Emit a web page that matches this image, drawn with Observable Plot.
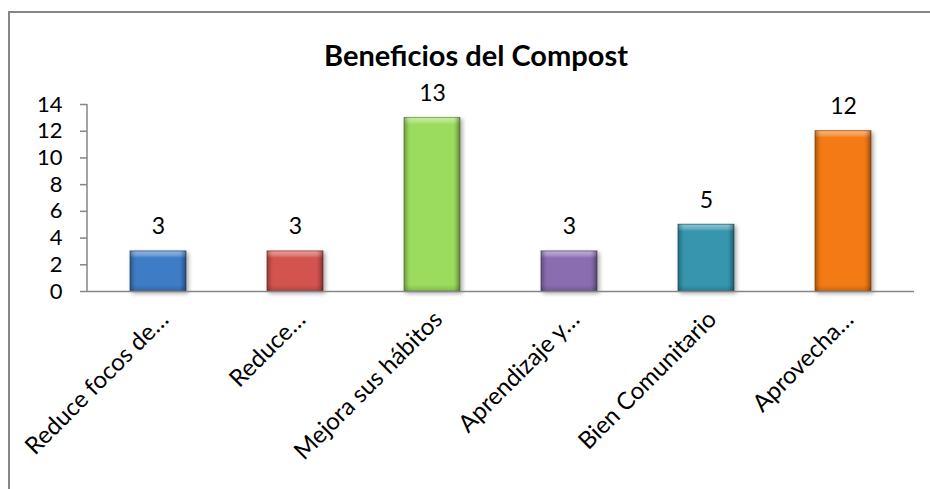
<!DOCTYPE html>
<html>
<head>
<meta charset="utf-8">
<script src="https://cdn.jsdelivr.net/npm/d3@7"></script>
<script src="https://cdn.jsdelivr.net/npm/@observablehq/plot@0.6"></script>
<style>
  html, body { margin: 0; padding: 0; background: #fff; }
  #wrap { position: relative; width: 930px; height: 489px; overflow: hidden; }
  #border { position: absolute; left: 8px; top: 11px; width: 1000px; height: 600px;
            border-left: 2px solid #868686; border-top: 2px solid #868686; }
  #chart { position: absolute; left: 0; top: 0; }
</style>
</head>
<body>
<div id="wrap"><div id="border"></div><div id="chart"></div></div>
<script>
const title = "Beneficios del Compost";
const categories = ["Reduce focos de…", "Reduce…", "Mejora sus hábitos", "Aprendizaje y…", "Bien Comunitario", "Aprovecha…"];
const values = [3, 3, 13, 3, 5, 12];
const colors = ["#3F7CC6", "#D3534F", "#9BDB5E", "#8A6DB0", "#3596AE", "#F37A14"];
const yTicks = [0, 2, 4, 6, 8, 10, 12, 14];

const data = categories.map((c, i) => ({cat: c, value: values[i], color: colors[i]}));
const FONT = "Lato, 'Open Sans', sans-serif";

const plot = Plot.plot({
  width: 930,
  height: 489,
  marginLeft: 87,
  marginRight: 16,
  marginTop: 104,
  marginBottom: 198,
  style: {fontFamily: FONT, fontSize: "22px", color: "#000", background: "transparent", overflow: "visible"},
  x: {domain: categories, paddingInner: 0.59, paddingOuter: 0.295, label: null},
  y: {domain: [0, 14], label: null},
  color: {type: "identity"},
  marks: [
    Plot.axisY({ticks: yTicks, tickSize: 7, tickPadding: 18, stroke: "#868686", strokeOpacity: 1, strokeWidth: 1.5, fill: "#000", fontSize: 22, label: null}),
    Plot.axisX({tickSize: 0, tickRotate: -45, tickPadding: 24, dx: 6, fontSize: 24, fill: "#000", label: null}),
    Plot.barY(data, {x: "cat", y: "value", fill: "color"}),
    Plot.barY(data, {x: "cat", y: "value", fill: "url(#sideShade)"}),
    Plot.ruleY([0], {stroke: "#868686", strokeWidth: 1.5}),
    Plot.text(data, {x: "cat", y: "value", text: d => String(d.value), lineAnchor: "bottom", dy: -17, fontSize: 23, fill: "#000"}),
    Plot.text([title], {frameAnchor: "top", lineAnchor: "bottom", dy: -39, dx: -25, fontSize: 29, fontWeight: "bold", fill: "#000"})
  ]
});

document.getElementById("chart").appendChild(plot);

const svgns = "http://www.w3.org/2000/svg";
function mk(tag, attrs) {
  const e = document.createElementNS(svgns, tag);
  for (const k in attrs) e.setAttribute(k, attrs[k]);
  return e;
}

// vertical value-axis line, placed from the plot's own scales
const xr = plot.scale("x").range, yr = plot.scale("y").range;
plot.appendChild(mk("line", {x1: xr[0], x2: xr[0], y1: yr[0], y2: yr[1], stroke: "#868686", "stroke-width": 1.5}));

const defs = document.createElementNS(svgns, "defs");
plot.insertBefore(defs, plot.firstChild);

// horizontal side shading
const side = mk("linearGradient", {id: "sideShade", x1: 0, y1: 0, x2: 1, y2: 0});
[[0, "rgba(0,0,0,0.30)"], [0.08, "rgba(0,0,0,0.05)"], [0.12, "rgba(0,0,0,0)"], [0.88, "rgba(0,0,0,0)"], [0.92, "rgba(0,0,0,0.08)"], [1, "rgba(0,0,0,0.38)"]]
  .forEach(([o, c]) => side.appendChild(mk("stop", {offset: o, "stop-color": c})));
defs.appendChild(side);

// per-bar vertical bevel gradients
const barGroups = plot.querySelectorAll('g[aria-label="bar"]');
const baseRects = barGroups[0].querySelectorAll("rect");
baseRects.forEach((r, i) => {
  const h = +r.getAttribute("height");
  const base = d3.color(colors[i]);
  const light = d3.interpolateRgb(base, "#fff")(0.45);
  const dark = base.darker(0.5).formatHex();
  const g = mk("linearGradient", {id: "vg" + i, x1: 0, y1: 0, x2: 0, y2: 1});
  const t = Math.min(0.45, 7 / h), b = Math.min(0.45, 6 / h);
  [[0, light], [t * 0.6, d3.interpolateRgb(base, "#fff")(0.25)], [t, base.formatHex()], [1 - b, base.formatHex()], [1, dark]]
    .forEach(([o, c]) => g.appendChild(mk("stop", {offset: o, "stop-color": c})));
  defs.appendChild(g);
  r.setAttribute("fill", "url(#vg" + i + ")");
  r.setAttribute("stroke", base.darker(1).formatHex());
  r.setAttribute("stroke-width", "0.8");
});
barGroups[0].style.filter = "drop-shadow(2px 2px 2px rgba(0,0,0,0.35))";
</script>
</body>
</html>
